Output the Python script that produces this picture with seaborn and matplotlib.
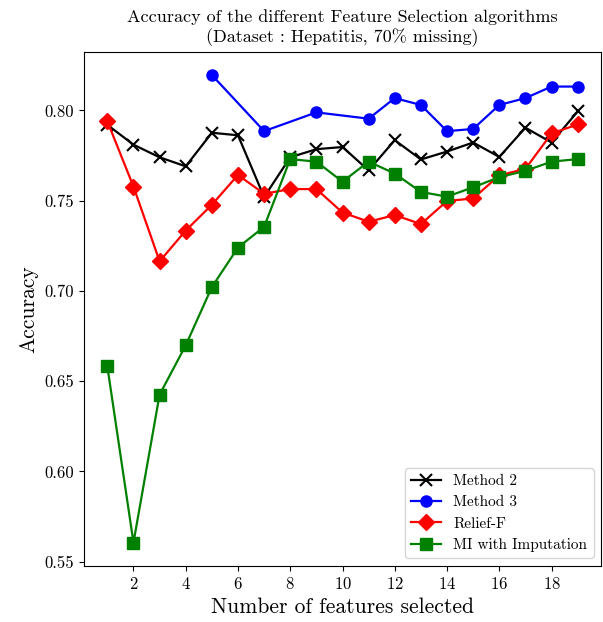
import matplotlib
matplotlib.use("Agg")
import matplotlib.pyplot as plt
import seaborn as sns
import pandas as pd

plt.rcParams['font.family'] = 'serif'
plt.rcParams['font.serif'] = ['cmr10']
plt.rcParams['mathtext.fontset'] = 'cm'
plt.rcParams['axes.formatter.use_mathtext'] = True

x_m2 = list(range(1, 20))
method2 = [0.792, 0.781, 0.774, 0.769, 0.7876, 0.7862, 0.752, 0.774, 0.7785, 0.7797,
           0.7667, 0.7835, 0.7728, 0.7772, 0.7822, 0.7742, 0.7904, 0.7822, 0.7994]
x_m3 = [5, 7, 9, 11, 12, 13, 14, 15, 16, 17, 18, 19]
method3 = [0.8196, 0.7885, 0.7989, 0.7954, 0.8068, 0.8030, 0.7885, 0.7897, 0.8030, 0.8068, 0.8132, 0.8132]
x_rf = list(range(1, 20))
relieff = [0.794, 0.7578, 0.7164, 0.7334, 0.7477, 0.7642, 0.7538, 0.7564, 0.7564, 0.7434,
           0.7383, 0.7420, 0.7370, 0.7498, 0.7512, 0.7640, 0.7676, 0.7872, 0.7922]
x_mi = list(range(1, 20))
mi_imp = [0.6582, 0.5605, 0.6425, 0.6698, 0.7021, 0.7240, 0.7355, 0.7730, 0.7716, 0.7605,
          0.7716, 0.7650, 0.7548, 0.7522, 0.7574, 0.7630, 0.7665, 0.7716, 0.7730]

labels = ["Method 2", "Method 3", "Relief-F", "MI with Imputation"]
colors = ["black", "blue", "red", "green"]
markers = ["x", "o", "D", "s"]

fig = plt.figure(figsize=(6.03, 6.22), dpi=100)
ax = fig.add_axes([0.139, 0.09, 0.858, 0.827])

series = [(x_m2, method2), (x_m3, method3), (x_rf, relieff), (x_mi, mi_imp)]
for (xs, ys), lab, c, m in zip(series, labels, colors, markers):
    df = pd.DataFrame({"x": xs, "y": ys})
    sns.lineplot(data=df, x="x", y="y", ax=ax, color=c, marker=m, markersize=8,
                 markeredgecolor=c, markeredgewidth=1.5 if m == "x" else 1.0,
                 linewidth=1.6, label=lab)

ax.set_xticks([2, 4, 6, 8, 10, 12, 14, 16, 18])
ax.set_yticks([0.55, 0.60, 0.65, 0.70, 0.75, 0.80])
ax.set_yticklabels(["0.55", "0.60", "0.65", "0.70", "0.75", "0.80"])
ax.tick_params(labelsize=12)
ax.set_xlabel("Number of features selected", fontsize=15.5)
ax.set_ylabel("Accuracy", fontsize=15.5)
ax.set_title("Accuracy of the different Feature Selection algorithms\n(Dataset : Hepatitis, 70% missing)",
             fontsize=13, pad=7)
ax.legend(loc="lower right", fontsize=11)
fig.savefig("out.png", dpi=100)
